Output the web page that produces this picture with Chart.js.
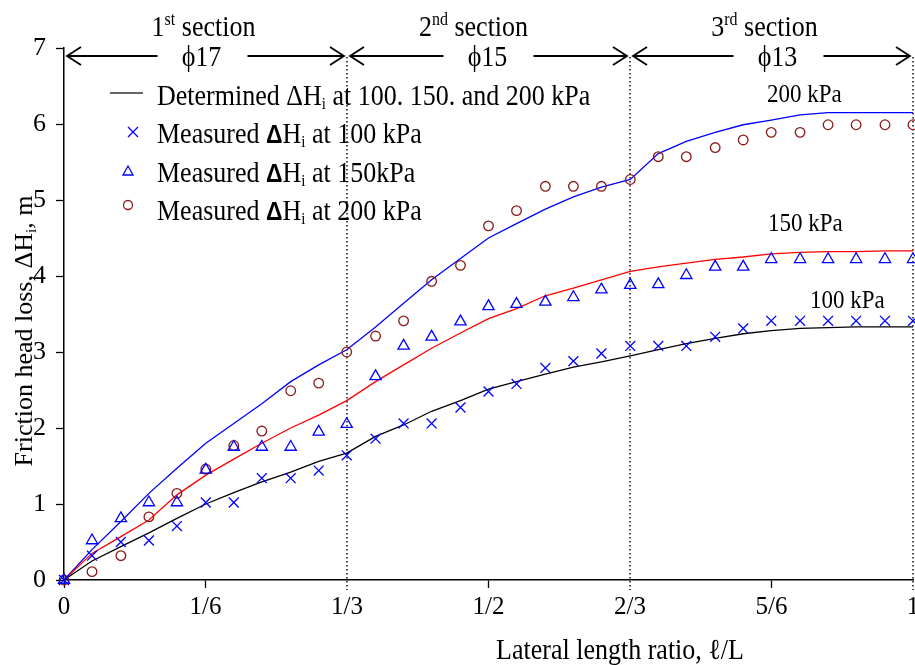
<!DOCTYPE html>
<html>
<head>
<meta charset="utf-8">
<script src="https://cdn.jsdelivr.net/npm/chart.js@4.4.1/dist/chart.umd.min.js"></script>
<style>
  html, body { margin: 0; padding: 0; background: #fff; }
  #wrap { width: 915px; height: 665px; }
</style>
</head>
<body>
<div id="wrap"><canvas id="chart" width="915" height="665"></canvas></div>
<script>
/* Data */
const xRatio = [0, 0.033, 0.067, 0.1, 0.133, 0.167, 0.2, 0.233, 0.267, 0.3, 0.333,
  0.367, 0.4, 0.433, 0.467, 0.5, 0.533, 0.567, 0.6, 0.633, 0.667,
  0.7, 0.733, 0.767, 0.8, 0.833, 0.867, 0.9, 0.933, 0.967, 1];

const measured100 = [0, 0.32, 0.50, 0.52, 0.71, 1.02, 1.02, 1.34, 1.34, 1.44, 1.64,
  1.86, 2.06, 2.06, 2.27, 2.48, 2.58, 2.79, 2.88, 2.98,
  3.08, 3.08, 3.08, 3.20, 3.31, 3.41, 3.41, 3.41, 3.41, 3.41, 3.41];
const measured150 = [0, 0.52, 0.81, 1.02, 1.02, 1.45, 1.75, 1.75, 1.75, 1.95, 2.05,
  2.68, 3.08, 3.20, 3.40, 3.60, 3.63, 3.66, 3.72, 3.82,
  3.88, 3.89, 4.01, 4.12, 4.12, 4.22, 4.22, 4.22, 4.22, 4.22, 4.22];
const measured200 = [0, 0.11, 0.32, 0.83, 1.14, 1.46, 1.77, 1.96, 2.49, 2.59, 3.00,
  3.21, 3.41, 3.93, 4.14, 4.66, 4.86, 5.18, 5.18, 5.18,
  5.27, 5.57, 5.57, 5.69, 5.79, 5.89, 5.89, 5.99, 5.99, 5.99, 5.99];

const determined100 = [0, 0.25, 0.44, 0.62, 0.81, 1.00, 1.15, 1.29, 1.42, 1.56, 1.67,
  1.89, 2.04, 2.22, 2.36, 2.51, 2.61, 2.71, 2.80, 2.87,
  2.95, 3.03, 3.11, 3.18, 3.24, 3.28, 3.31, 3.32, 3.33, 3.33, 3.33];
const determined150 = [0, 0.35, 0.57, 0.79, 1.12, 1.38, 1.59, 1.80, 2.00, 2.17, 2.36,
  2.61, 2.83, 3.05, 3.25, 3.44, 3.57, 3.74, 3.84, 3.95,
  4.06, 4.12, 4.17, 4.22, 4.25, 4.29, 4.31, 4.32, 4.32, 4.33, 4.33];
const determined200 = [0, 0.40, 0.77, 1.14, 1.47, 1.80, 2.06, 2.32, 2.61, 2.83, 3.03,
  3.33, 3.64, 3.95, 4.23, 4.50, 4.69, 4.88, 5.04, 5.17,
  5.27, 5.61, 5.77, 5.89, 5.99, 6.05, 6.12, 6.15, 6.15, 6.15, 6.15];

const xTickValues = [0, 1 / 6, 1 / 3, 1 / 2, 2 / 3, 5 / 6, 1];
const xTickLabels = ['0', '1/6', '1/3', '1/2', '2/3', '5/6', '1'];
const sectionBounds = [0, 1 / 3, 2 / 3, 1];
const sectionOrdinals = [['1', 'st'], ['2', 'nd'], ['3', 'rd']];
const sectionDiameters = ['\u03D517', '\u03D515', '\u03D513'];
const pressureLabels = ['200 kPa', '150 kPa', '100 kPa'];

const SERIF = '"Liberation Serif", "Times New Roman", serif';
const SANS = '"Liberation Sans", Arial, sans-serif';
const BLUE = '#0000ff';
const RED = '#ff0000';
const DARKRED = '#8b1a1a';
const STRETCH = 1.12; // the source figure's text is slightly tall

const pts = (ys) => xRatio.map((x, i) => ({ x, y: ys[i] }));

/* text with sub/superscripts: parts = [text, font, dy] */
function drawRich(ctx, x, y, parts, align = 'left', sy = STRETCH) {
  let total = 0;
  parts.forEach(([t, f]) => { ctx.font = f; total += ctx.measureText(t).width; });
  ctx.save();
  ctx.translate(x, y);
  ctx.scale(1, sy);
  let cx = align === 'center' ? -total / 2 : 0;
  ctx.textAlign = 'left';
  ctx.textBaseline = 'alphabetic';
  parts.forEach(([t, f, dy = 0]) => {
    ctx.font = f;
    ctx.fillText(t, cx, dy);
    cx += ctx.measureText(t).width;
  });
  ctx.restore();
}

function arrowHead(ctx, x, y, dir) {
  ctx.beginPath();
  ctx.moveTo(x - dir * 14, y - 9);
  ctx.lineTo(x, y);
  ctx.lineTo(x - dir * 14, y + 9);
  ctx.stroke();
}

const overlayPlugin = {
  id: 'overlay',
  beforeDatasetsDraw(chart) {
    const { ctx, scales: { x } } = chart;
    ctx.save();
    ctx.strokeStyle = '#000';
    ctx.lineWidth = 1.4;
    ctx.setLineDash([1.5, 2.5]);
    sectionBounds.slice(1).forEach((b) => {
      const px = Math.min(x.getPixelForValue(b), 913);
      ctx.beginPath();
      ctx.moveTo(px, 57);
      ctx.lineTo(px, 590);
      ctx.stroke();
    });
    ctx.restore();
  },
  afterDraw(chart) {
    const { ctx, scales: { x } } = chart;
    ctx.save();
    ctx.fillStyle = '#000';
    ctx.strokeStyle = '#000';

    // section arrows and labels
    const ay = 56;
    const titleShift = [-2, -15, -7];
    const diaShift = [-4, -1, 6];
    ctx.lineWidth = 1.8;
    for (let s = 0; s < 3; s++) {
      const l = x.getPixelForValue(sectionBounds[s]) + 3;
      const r = Math.min(x.getPixelForValue(sectionBounds[s + 1]), 913) - 3;
      const mid = (l + r) / 2;
      const dm = mid + diaShift[s];
      ctx.beginPath();
      ctx.moveTo(l, ay); ctx.lineTo(dm - 44, ay);
      ctx.moveTo(dm + 46, ay); ctx.lineTo(r, ay);
      ctx.stroke();
      arrowHead(ctx, l, ay, -1);
      arrowHead(ctx, r, ay, 1);
      drawRich(ctx, dm, 66, [[sectionDiameters[s], `26px ${SERIF}`]], 'center');
      drawRich(ctx, mid + titleShift[s], 36, [
        [sectionOrdinals[s][0], `26px ${SERIF}`],
        [sectionOrdinals[s][1], `16px ${SERIF}`, -10],
        [' section', `26px ${SERIF}`],
      ], 'center');
    }

    // pressure labels on the right
    drawRich(ctx, 767, 102, [[pressureLabels[0], `23px ${SERIF}`]]);
    drawRich(ctx, 768, 231, [[pressureLabels[1], `23px ${SERIF}`]]);
    drawRich(ctx, 810, 308, [[pressureLabels[2], `23px ${SERIF}`]]);

    // legend
    ctx.strokeStyle = '#333';
    ctx.lineWidth = 1.3;
    ctx.beginPath();
    ctx.moveTo(110, 93); ctx.lineTo(143, 93);
    ctx.stroke();
    drawRich(ctx, 157, 105, [
      ['Determined \u0394H', `26px ${SERIF}`],
      ['i', `15px ${SERIF}`, 4],
      [' at 100. 150. and 200 kPa', `26px ${SERIF}`],
    ]);
    const mRows = [[143, 'at 100 kPa'], [182, 'at 150kPa'], [220, 'at 200 kPa']];
    mRows.forEach(([by, tail]) => {
      drawRich(ctx, 157, by, [
        ['Measured ', `26px ${SERIF}`],
        ['\u0394', `bold 23px ${SANS}`],
        ['H', `26px ${SERIF}`],
        ['i', `15px ${SERIF}`, 4],
        [' ' + tail, `26px ${SERIF}`],
      ]);
    });
    ctx.lineWidth = 1.3;
    ctx.strokeStyle = BLUE;
    ctx.beginPath();
    ctx.moveTo(128, 127); ctx.lineTo(138, 137);
    ctx.moveTo(138, 127); ctx.lineTo(128, 137);
    ctx.stroke();
    ctx.beginPath();
    ctx.moveTo(128, 166); ctx.lineTo(133, 175); ctx.lineTo(123, 175); ctx.closePath();
    ctx.stroke();
    ctx.strokeStyle = DARKRED;
    ctx.beginPath();
    ctx.arc(128, 205, 4.5, 0, Math.PI * 2);
    ctx.stroke();

    // axis titles
    ctx.fillStyle = '#000';
    drawRich(ctx, 620, 659, [['Lateral length ratio, \u2113/L', `26px ${SERIF}`]], 'center');
    ctx.translate(32, 331);
    ctx.rotate(-Math.PI / 2);
    drawRich(ctx, 0, 0, [
      ['Friction head loss, \u0394H', `26px ${SERIF}`],
      ['i', `15px ${SERIF}`, 4],
      [', m', `26px ${SERIF}`],
    ], 'center', 1);
    ctx.restore();
  },
};

const markerBase = { showLine: false, borderWidth: 1.3, backgroundColor: 'transparent' };
const lineBase = { showLine: true, pointRadius: 0, borderWidth: 1.3, tension: 0, fill: false };

new Chart(document.getElementById('chart'), {
  type: 'scatter',
  data: {
    datasets: [
      { ...markerBase, label: 'Measured 100 kPa', data: pts(measured100), pointStyle: 'crossRot', pointRadius: 7, borderColor: BLUE },
      { ...markerBase, label: 'Measured 150 kPa', data: pts(measured150), pointStyle: 'triangle', pointRadius: 6.5, borderColor: BLUE },
      { ...markerBase, label: 'Measured 200 kPa', data: pts(measured200), pointStyle: 'circle', pointRadius: 4.8, borderColor: DARKRED },
      { ...lineBase, label: 'Determined 100 kPa', data: pts(determined100), borderColor: '#000' },
      { ...lineBase, label: 'Determined 150 kPa', data: pts(determined150), borderColor: RED },
      { ...lineBase, label: 'Determined 200 kPa', data: pts(determined200), borderColor: BLUE },
    ],
  },
  options: {
    responsive: false,
    animation: false,
    clip: false,
    layout: { autoPadding: false, padding: { top: 48, right: 2, left: 0, bottom: 0 } },
    plugins: { legend: { display: false }, tooltip: { enabled: false } },
    scales: {
      x: {
        type: 'linear',
        min: 0,
        max: 1,
        afterBuildTicks: (axis) => { axis.ticks = xTickValues.map((v) => ({ value: v })); },
        afterFit: (axis) => { axis.height = 85; axis.paddingLeft = 0; axis.paddingRight = 0; },
        ticks: {
          autoSkip: false,
          maxRotation: 0,
          padding: 4,
          color: '#000',
          font: { family: SERIF, size: 25 },
          callback: (v, i) => xTickLabels[i],
        },
        grid: {
          drawOnChartArea: false,
          drawTicks: true,
          tickLength: 8,
          tickWidth: 1.3,
          tickColor: (c) => ([2, 4, 6].includes(c.index) ? 'transparent' : '#000'),
        },
        border: { display: true, color: '#000', width: 1.5 },
      },
      y: {
        min: 0,
        max: 7,
        afterFit: (axis) => { axis.width = 64; },
        ticks: {
          stepSize: 1,
          padding: 10,
          color: '#000',
          font: { family: SERIF, size: 26 },
        },
        grid: {
          drawOnChartArea: false,
          drawTicks: true,
          tickLength: 8,
          tickWidth: 1.3,
          tickColor: '#000',
        },
        border: { display: true, color: '#000', width: 1.5 },
      },
    },
  },
  plugins: [overlayPlugin],
});
</script>
</body>
</html>
